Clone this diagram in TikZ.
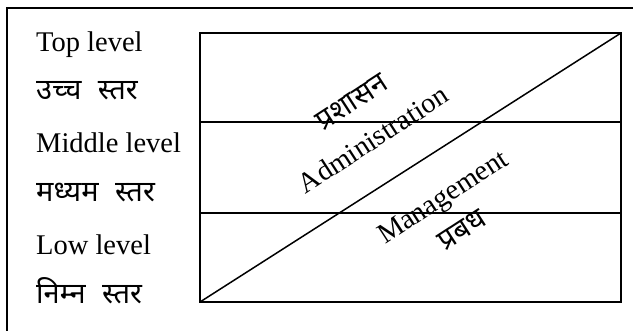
\documentclass[tikz,border=0pt]{standalone}
\usepackage{fontspec}
\setmainfont{Liberation Serif}
\newfontfamily\deva[Script=Devanagari,WordSpace=2.2]{Noto Sans}
\begin{document}
\begin{tikzpicture}[x=1pt,y=-1pt,
  frame/.style={line width=1.8pt},
  grid/.style={line width=1.5pt},
  lvl/.style={anchor=base west,inner sep=0pt,font=\fontsize{28.5}{31}\selectfont},
  lvlhi/.style={anchor=base west,inner sep=0pt,font=\deva\fontsize{29}{32}\selectfont},
  diag/.style={inner sep=0pt,rotate=33,font=\fontsize{28.5}{31}\selectfont},
  diaghi/.style={inner sep=0pt,rotate=33,font=\deva\fontsize{29}{32}\selectfont}]
\useasboundingbox (0,0) rectangle (633,331);
% outer frame, top and left sides
\coordinate (ftr) at (633,8);
\coordinate (ftl) at (7,8);
\coordinate (fbl) at (7,331);
\draw[frame] (ftr) -- (ftl) -- (fbl);
% level box
\coordinate (tl) at (200,33);
\coordinate (tr) at (621,33);
\coordinate (bl) at (200,302);
\coordinate (br) at (621,302);
\coordinate (m1l) at (200,122);
\coordinate (m1r) at (621,122);
\coordinate (m2l) at (200,213);
\coordinate (m2r) at (621,213);
\draw[grid] (tl) rectangle (br);
\draw[grid] (m1l) -- (m1r);
\draw[grid] (m2l) -- (m2r);
\draw[grid] (bl) -- (tr);
% level labels
\node[lvl] (top) at (36,52) {Top level};
\node[lvlhi] (toph) at (36,100) {उच्च स्तर};
\node[lvl] (mid) at (36,153) {Middle level};
\node[lvlhi] (midh) at (36,202) {मध्यम स्तर};
\node[lvl] (low) at (36,255) {Low level};
\node[lvlhi] (lowh) at (36,304) {निम्न स्तर};
% diagonal labels
\node[diaghi] (admh) at (352,102) {प्रशासन};
\node[diag] (adm) at (373,139) {Administration};
\node[diag] (mgt) at (444,199) {Management};
\node[diaghi] (mgth) at (462,230) {प्रबध};
\end{tikzpicture}
\end{document}
